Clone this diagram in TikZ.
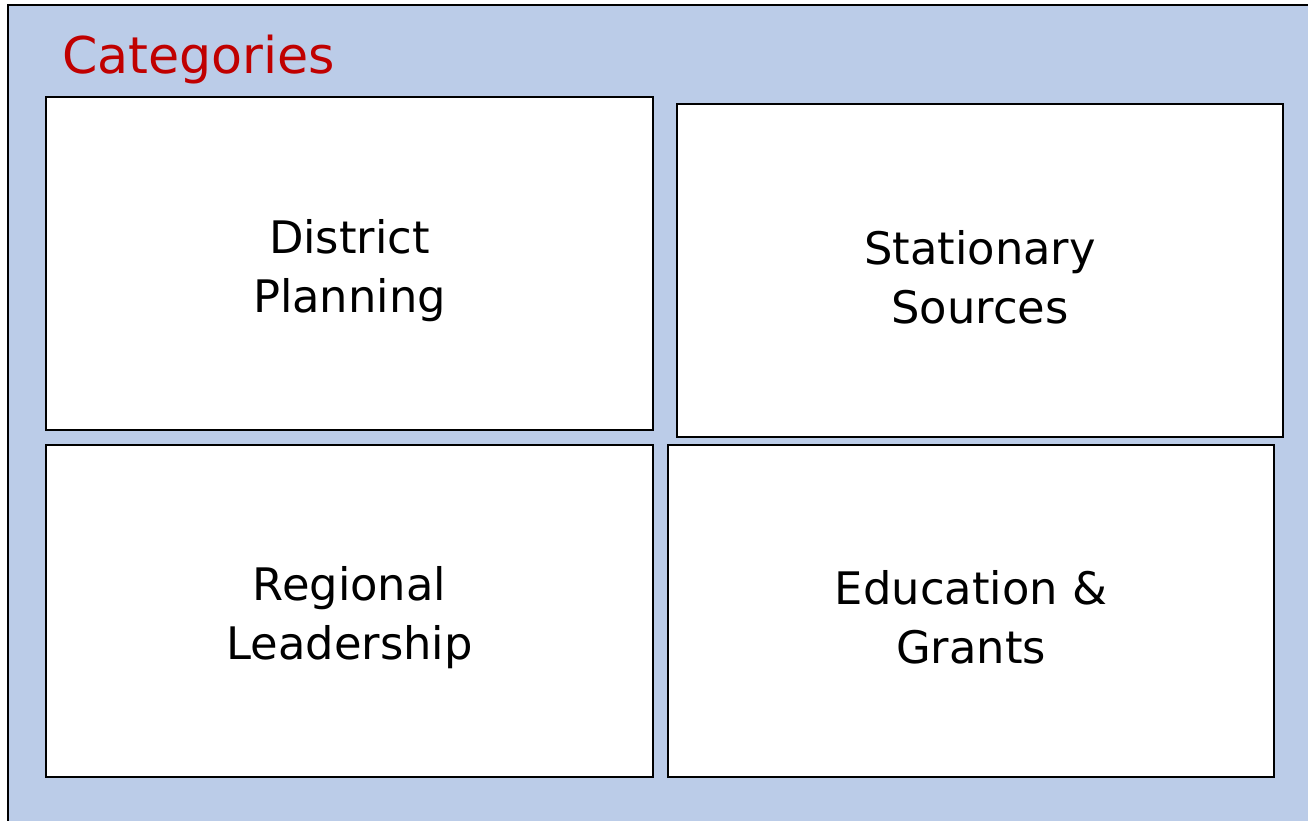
\documentclass[tikz,border=0pt]{standalone}
\usepackage{fontspec}
\setmainfont{DejaVu Sans}
\definecolor{panelblue}{RGB}{187,204,232}
\definecolor{titlered}{RGB}{192,0,0}
\begin{document}
\begin{tikzpicture}[x=0.75pt,y=-0.75pt,
  catbox/.style={draw=black,line width=1.1pt,fill=white,inner sep=0pt},
  cattext/.style={inner sep=0pt,align=center,
    font=\fontsize{33.6pt}{44.25pt}\selectfont},
  catitle/.style={anchor=base west,inner sep=0pt,text=titlered,
    font=\fontsize{38pt}{45pt}\selectfont}]
\useasboundingbox (0,0) rectangle (1308,820);
\fill[white] (0,0) rectangle (1308,820);
\draw[fill=panelblue,line width=1.1pt] (8,5) rectangle (1320,830);
\node[catitle] (title) at (62,74) {Categories};
\node[catbox,minimum width=455.25pt,minimum height=249.75pt] (dp) at (349.5,263.5) {};
\node[catbox,minimum width=454.5pt,minimum height=249.75pt] (ss) at (980,270.5) {};
\node[catbox,minimum width=455.25pt,minimum height=249pt] (rl) at (349.5,611) {};
\node[catbox,minimum width=454.5pt,minimum height=249pt] (eg) at (971,611) {};
\node[cattext] (dpt) at ([yshift=-5pt]dp.center) {District\\Planning};
\node[cattext] (sst) at ([yshift=-5pt]ss.center) {Stationary\\Sources};
\node[cattext] (rlt) at ([yshift=-5pt]rl.center) {Regional\\Leadership};
\node[cattext] (egt) at ([yshift=-5pt]eg.center) {Education \&\\Grants};
\end{tikzpicture}
\end{document}
